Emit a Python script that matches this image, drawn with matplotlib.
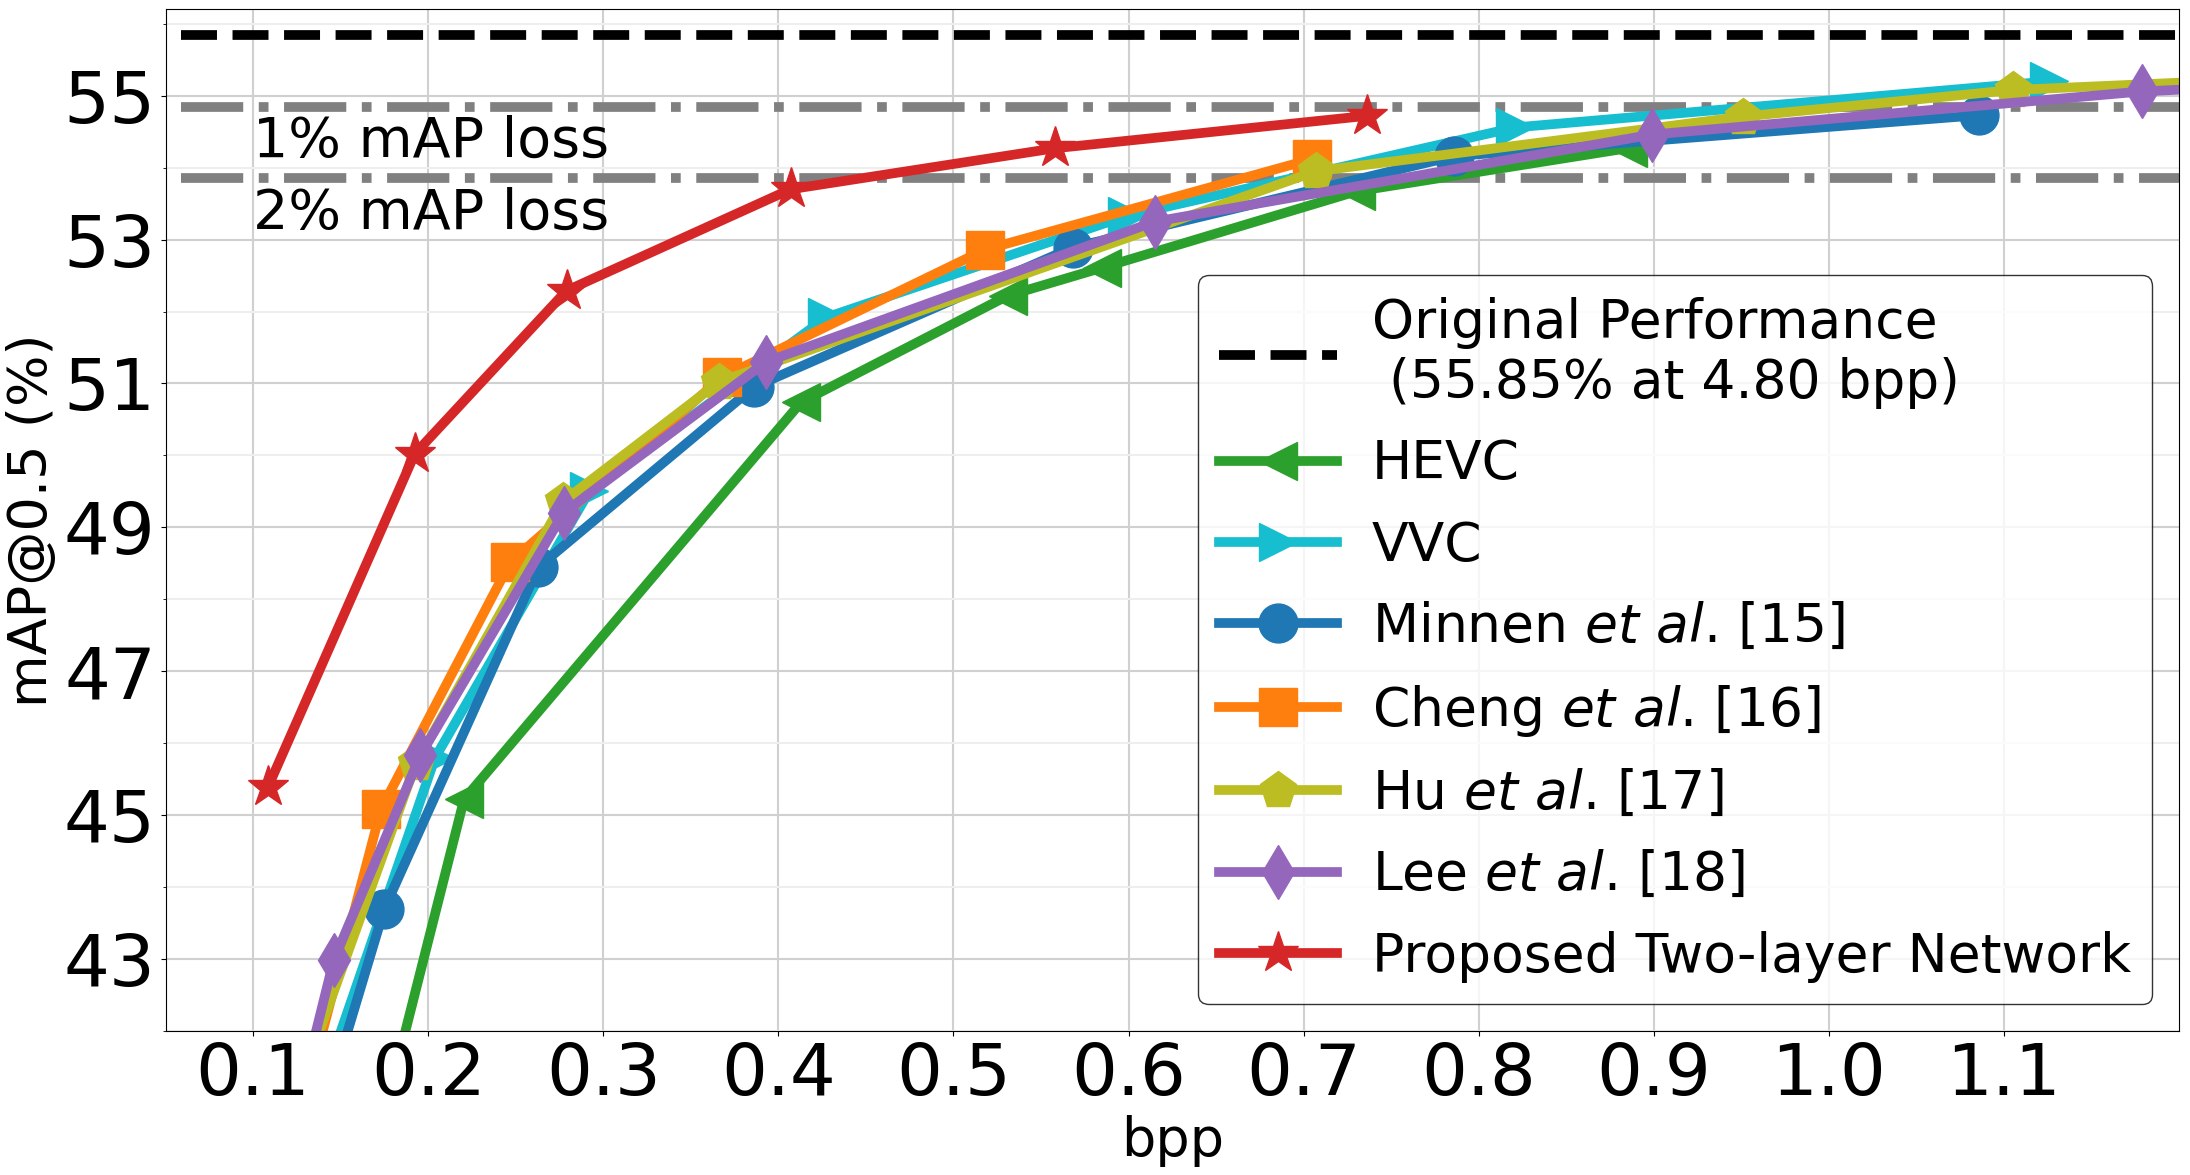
import matplotlib
matplotlib.use('Agg')
import matplotlib.pyplot as plt

# ---------------- data ----------------
orig_map = 55.85
orig_label = 'Original Performance\n (55.85% at 4.80 bpp)'
loss_levels = [54.85, 53.85]
loss_labels = ['1% mAP loss', '2% mAP loss']
loss_text_y = [54.15, 53.15]
ref_bpp = [0.059, 1.25]

hevc_bpp = [0.1766, 0.2205, 0.413, 0.531, 0.585, 0.730, 0.885]
hevc_map = [41.0, 45.22, 50.74, 52.22, 52.61, 53.67, 54.27]

vvc_bpp = [0.136, 0.204, 0.292, 0.4275, 0.599, 0.821, 1.126]
vvc_map = [41.0, 45.80, 49.50, 51.92, 53.33, 54.56, 55.20]

minnen_bpp = [0.1417, 0.175, 0.263, 0.386, 0.568, 0.786, 1.086]
minnen_map = [41.0, 43.70, 48.45, 50.95, 52.89, 54.16, 54.73]

cheng_bpp = [0.129, 0.173, 0.247, 0.368, 0.518, 0.705]
cheng_map = [41.0, 45.08, 48.52, 51.09, 52.86, 54.12]

hu_bpp = [0.1232, 0.193, 0.277, 0.366, 0.707, 0.951, 1.105, 1.35]
hu_map = [41.0, 45.72, 49.36, 51.02, 53.95, 54.71, 55.08, 55.34]

lee_bpp = [0.1258, 0.146, 0.1955, 0.2773, 0.393, 0.615, 0.899, 1.179, 1.35]
lee_map = [41.0, 42.98, 45.83, 49.20, 51.30, 53.25, 54.46, 55.06, 55.25]

prop_bpp = [0.1085, 0.1923, 0.279, 0.407, 0.558, 0.736]
prop_map = [45.39, 50.02, 52.29, 53.70, 54.27, 54.72]

series_labels = ['HEVC', 'VVC', r'Minnen $\it{et\ al}$. [15]', r'Cheng $\it{et\ al}$. [16]',
                 r'Hu $\it{et\ al}$. [17]', r'Lee $\it{et\ al}$. [18]', 'Proposed Two-layer Network']

x_ticks = [0.1, 0.2, 0.3, 0.4, 0.5, 0.6, 0.7, 0.8, 0.9, 1.0, 1.1]
x_ticklabels = ['0.1', '0.2', '0.3', '0.4', '0.5', '0.6', '0.7', '0.8', '0.9', '1.0', '1.1']
y_ticks = [43, 45, 47, 49, 51, 53, 55]
y_minor_ticks = [42, 44, 46, 48, 50, 52, 54, 56]

# ---------------- plot ----------------
fig = plt.figure(figsize=(21.9, 11.75), dpi=100)
ax = fig.add_axes([0.0756, 0.1226, 0.9194, 0.8694])

LW = 7
MS = 28

for lvl in loss_levels:
    ax.plot(ref_bpp, [lvl, lvl], linestyle='-.', color='gray', linewidth=LW)
ax.plot(ref_bpp, [orig_map, orig_map], linestyle='--', color='black', linewidth=LW,
        label=orig_label)

series = [
    (hevc_bpp, hevc_map, '<', 'tab:green', MS),
    (vvc_bpp, vvc_map, '>', 'tab:cyan', MS),
    (minnen_bpp, minnen_map, 'o', 'tab:blue', MS),
    (cheng_bpp, cheng_map, 's', 'tab:orange', MS),
    (hu_bpp, hu_map, 'p', 'tab:olive', MS),
    (lee_bpp, lee_map, 'd', 'tab:purple', MS),
    (prop_bpp, prop_map, '*', 'tab:red', 31),
]
for (xs, ys, mk, col, ms), lab in zip(series, series_labels):
    ax.plot(xs, ys, marker=mk, color=col, linewidth=LW, markersize=ms, label=lab)

for ty, txt in zip(loss_text_y, loss_labels):
    ax.text(0.1, ty, txt, fontsize=40)

ax.set_xlim(0.05, 1.2)
ax.set_ylim(42, 56.2)
ax.set_xticks(x_ticks)
ax.set_xticklabels(x_ticklabels)
ax.set_yticks(y_ticks)
ax.set_yticks(y_minor_ticks, minor=True)
ax.tick_params(axis='both', which='major', labelsize=52)
ax.set_axisbelow(True)
ax.grid(which='major', color='#d0d0d0', linewidth=1.5)
ax.grid(which='minor', color='#eeeeee', linewidth=1.5)

ax.set_xlabel('bpp', fontsize=39)
ax.set_ylabel('mAP@0.5 (%)', fontsize=39)

leg = ax.legend(loc='lower right', fontsize=38.5, handlelength=2.2, handletextpad=0.65,
                labelspacing=0.55, edgecolor='black')

fig.savefig('out.png', dpi=100)
